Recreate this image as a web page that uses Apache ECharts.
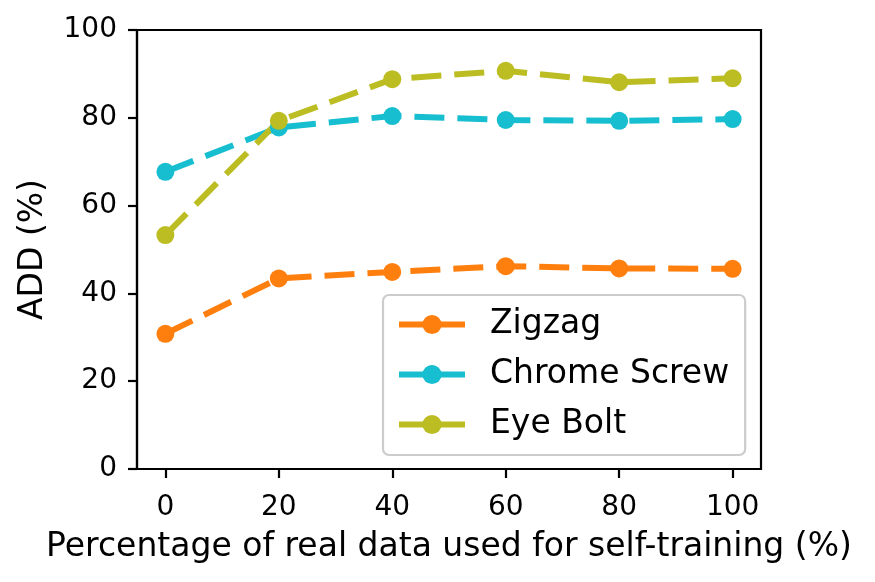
<!DOCTYPE html>
<html>
<head>
<meta charset="utf-8">
<script src="https://cdn.jsdelivr.net/npm/echarts@6/dist/echarts.min.js"></script>
<style>
  html, body { margin: 0; padding: 0; background: #fff; }
  #chart { width: 875px; height: 582px; }
</style>
</head>
<body>
<div id="chart"></div>
<script>
// data
var percents = [0, 20, 40, 60, 80, 100];
var zigzag = [30.8, 43.4, 44.9, 46.2, 45.7, 45.6];
var chromeScrew = [67.7, 77.8, 80.4, 79.5, 79.3, 79.7];
var eyeBolt = [53.3, 79.3, 88.8, 90.7, 88.1, 89.0];
var xTicks = [0, 20, 40, 60, 80, 100];

var font = 'DejaVu Sans';

function pairs(vals) {
  return percents.map(function (p, i) { return [p, vals[i]]; });
}

function makeSeries(name, vals, color) {
  return {
    name: name,
    type: 'line',
    data: pairs(vals),
    symbol: 'circle',
    symbolSize: 18,
    itemStyle: { color: color },
    lineStyle: { color: color, width: 6, type: [30, 13], cap: 'butt' },
    emphasis: { disabled: true }
  };
}

var chart = echarts.init(document.getElementById('chart'));
chart.setOption({
  animation: false,
  backgroundColor: '#fff',
  grid: {
    left: 137, right: 114, top: 30, bottom: 113,
    show: true, borderColor: '#000', borderWidth: 2.2, backgroundColor: 'transparent'
  },
  xAxis: {
    type: 'value',
    min: -5,
    max: 105,
    name: 'Percentage of real data used for self-training (%)',
    nameLocation: 'middle',
    nameGap: 62,
    nameTextStyle: { fontFamily: font, fontSize: 33, color: '#000' },
    axisLine: { onZero: false, lineStyle: { color: '#000', width: 2.2 } },
    axisTick: { show: true, length: 9, lineStyle: { color: '#000', width: 2.2 }, customValues: xTicks },
    axisLabel: { fontFamily: font, fontSize: 28, color: '#000', margin: 25, customValues: xTicks },
    splitLine: { show: false }
  },
  yAxis: {
    type: 'value',
    min: 0,
    max: 100,
    interval: 20,
    name: 'ADD (%)',
    nameLocation: 'middle',
    nameGap: 87,
    nameRotate: 90,
    nameTextStyle: { fontFamily: font, fontSize: 33, color: '#000' },
    axisLine: { show: true, onZero: false, lineStyle: { color: '#000', width: 2.2 } },
    axisTick: { show: true, length: 9, lineStyle: { color: '#000', width: 2.2 } },
    axisLabel: { fontFamily: font, fontSize: 28, color: '#000', margin: 20 },
    splitLine: { show: false }
  },
  legend: {
    orient: 'vertical',
    left: 383,
    top: 295,
    padding: [13, 16, 14, 13],
    itemWidth: 66,
    itemHeight: 24,
    itemGap: 17,
    borderColor: '#cccccc',
    borderWidth: 2.2,
    borderRadius: 6,
    backgroundColor: 'rgba(255,255,255,0.8)',
    lineStyle: { width: 6, type: 'solid' },
    textStyle: { fontFamily: font, fontSize: 33, color: '#000', padding: [0, 0, 0, 20] },
    data: ['Zigzag', 'Chrome Screw', 'Eye Bolt']
  },
  series: [
    makeSeries('Zigzag', zigzag, '#ff7f0e'),
    makeSeries('Chrome Screw', chromeScrew, '#17becf'),
    makeSeries('Eye Bolt', eyeBolt, '#bcbd22')
  ]
});
</script>
</body>
</html>
